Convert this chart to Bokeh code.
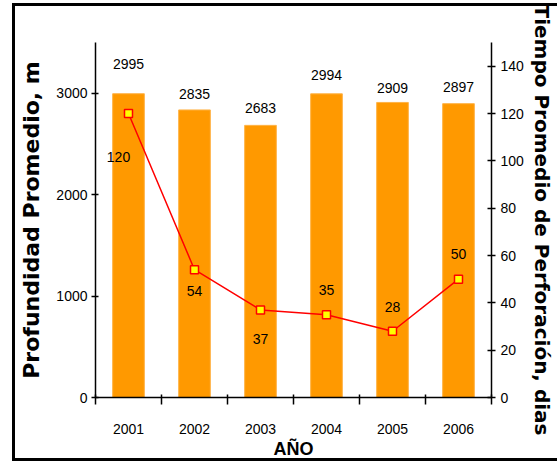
from bokeh.plotting import figure
from bokeh.models import ColumnDataSource, Range1d, LinearAxis, FixedTicker
from bokeh.core.properties import value
from bokeh.embed import file_html
from bokeh.resources import INLINE

# ---- data ----
years = ["2001", "2002", "2003", "2004", "2005", "2006"]
depth_m = [2995, 2835, 2683, 2994, 2909, 2897]
days = [120, 54, 37, 35, 28, 50]
depth_ticks = [0, 1000, 2000, 3000]
days_ticks = [0, 20, 40, 60, 80, 100, 120, 140]

# ---- styling / placement helpers (not data) ----
centers = [i + 0.5 for i in range(len(years))]
bounds = list(range(len(years) + 1))
bar_lbl_dy = [-30, -16, -17, -19, -14, -17]
line_lbl_dx = [-10, 0, 0, 0, 0, 0]
line_lbl_dy = [43, 21, 29, -25, -24, -25]

NUM_FONT = "Liberation Sans"
TITLE_FONT = "DejaVu Sans"
NUM_SIZE = "14px"

bar_src = ColumnDataSource(dict(x=centers, top=depth_m, lbl=[str(v) for v in depth_m],
                                dy=bar_lbl_dy))
line_src = ColumnDataSource(dict(x=centers, y=days, lbl=[str(v) for v in days],
                                 dx=line_lbl_dx, dy=line_lbl_dy))

p = figure(width=545, height=458,
           x_range=Range1d(0, len(years)), y_range=Range1d(0, 3500),
           output_backend="svg", toolbar_location=None,
           min_border_left=83, min_border_right=66,
           min_border_top=39, min_border_bottom=63)
p.extra_y_ranges = {"days": Range1d(0, 150)}
p.xgrid.visible = False
p.ygrid.visible = False
p.outline_line_color = None
p.background_fill_color = "white"
p.border_fill_color = None
# outer frame of the chart (left, top and bottom edges)
p.styles = {"margin-left": "12px", "margin-top": "3px",
            "box-shadow": "inset 3px 3px 0 0 #000, inset 0 -3px 0 0 #000"}

# bars
p.vbar(x="x", top="top", width=0.48, source=bar_src,
       fill_color="#FF9900", line_color="#FFB347", line_width=1)
p.text(x="x", y="top", text="lbl", source=bar_src, y_offset="dy",
       text_align="center", text_baseline="middle",
       text_font=value(NUM_FONT), text_font_size=NUM_SIZE, text_color="black")

# line
p.line(x="x", y="y", source=line_src, y_range_name="days",
       line_color="#FF0000", line_width=1.5)
p.scatter(x="x", y="y", source=line_src, y_range_name="days", marker="square",
          size=8, fill_color="#FFFF00", line_color="#FF0000", line_width=1.5)
p.text(x="x", y="y", text="lbl", source=line_src, y_range_name="days",
       x_offset="dx", y_offset="dy",
       text_align="center", text_baseline="middle",
       text_font=value(NUM_FONT), text_font_size=NUM_SIZE, text_color="black")

# x axis
xa = p.xaxis[0]
xa.ticker = FixedTicker(ticks=centers, minor_ticks=bounds)
xa.major_label_overrides = {c: y for c, y in zip(centers, years)}
xa.major_tick_line_color = None
xa.major_tick_out = 7
xa.major_tick_in = 0
xa.minor_tick_out = 7
xa.minor_tick_in = 3
xa.minor_tick_line_color = "black"
xa.minor_tick_line_width = 1.5
xa.major_label_standoff = 19
xa.major_label_text_font = NUM_FONT
xa.major_label_text_font_size = NUM_SIZE
xa.major_label_text_color = "black"
xa.axis_line_color = "black"
xa.axis_line_width = 1.5
xa.axis_label = "AÑO"
xa.axis_label_text_font = "Liberation Sans"
xa.axis_label_text_font_style = "bold"
xa.axis_label_text_font_size = "18px"
xa.axis_label_text_color = "black"
xa.axis_label_standoff = 2

# left axis
ya = p.yaxis[0]
ya.ticker = FixedTicker(ticks=depth_ticks)
ya.major_tick_out = 4
ya.major_tick_in = 3
ya.minor_tick_line_color = None
ya.major_tick_line_width = 1.5
ya.major_label_standoff = 4
ya.major_label_text_font = NUM_FONT
ya.major_label_text_font_size = NUM_SIZE
ya.major_label_text_color = "black"
ya.axis_line_width = 1.5
ya.axis_line_color = "black"
ya.axis_label = "Profundidad Promedio, m"
ya.axis_label_text_font = TITLE_FONT
ya.axis_label_text_font_style = "bold"
ya.axis_label_text_font_size = "22px"
ya.axis_label_text_color = "black"
ya.axis_label_standoff = 9

# right axis
ra = LinearAxis(y_range_name="days", ticker=FixedTicker(ticks=days_ticks))
ra.major_tick_out = 4
ra.major_tick_in = 4
ra.minor_tick_line_color = None
ra.major_tick_line_width = 1.5
ra.major_label_standoff = 5
ra.major_label_text_font = NUM_FONT
ra.major_label_text_font_size = NUM_SIZE
ra.major_label_text_color = "black"
ra.axis_line_width = 1.5
ra.axis_line_color = "black"
ra.axis_label = "Tiempo Promedio de Perforación, dias"
ra.axis_label_text_font = TITLE_FONT
ra.axis_label_text_font_style = "bold"
ra.axis_label_text_font_size = "20px"
ra.axis_label_text_color = "black"
ra.axis_label_standoff = 3
p.add_layout(ra, "right")

open("out.html", "w").write(file_html(p, INLINE))
